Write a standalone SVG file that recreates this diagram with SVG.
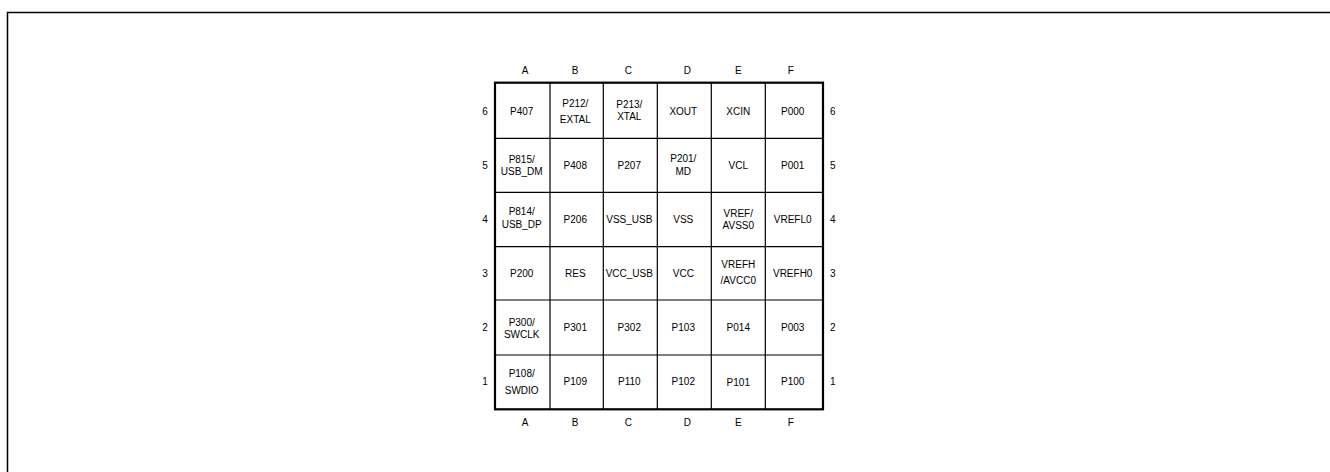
<svg xmlns="http://www.w3.org/2000/svg" width="1330" height="472" viewBox="0 0 1330 472">
<style>
text{font-family:"Liberation Sans",Arial,sans-serif;font-size:10px;fill:#000;text-anchor:middle}
.cell{fill:#fff;stroke:#000;stroke-width:1.2}
.frame{fill:none;stroke:#000;stroke-width:1.5}
.outer{fill:none;stroke:#000;stroke-width:2.2}
</style>
<rect width="1330" height="472" fill="#fff"/>
<path class="frame" d="M7.5,472 V12.5 H1330"/>
<g id="grid">
<path d="M550,82.7 V409.3 M603.3,82.7 V409.3 M657.3,82.7 V409.3 M711.3,82.7 V409.3 M765.3,82.7 V409.3 M495,138.3 H823 M495,192.3 H823 M495,246.7 H823 M495,300 H823 M495,355 H823" fill="none" stroke="#000" stroke-width="1.2"/>
<rect class="outer" x="495" y="82.7" width="328" height="326.6"/>
</g>
<g id="labels">
<text x="525" y="73.5">A</text><text x="575" y="73.5">B</text><text x="628.3" y="73.5">C</text><text x="687.3" y="73.5">D</text><text x="738.3" y="73.5">E</text><text x="790.7" y="73.5">F</text>
<text x="525" y="425.8">A</text><text x="575" y="425.8">B</text><text x="628.3" y="425.8">C</text><text x="687.3" y="425.8">D</text><text x="738.3" y="425.8">E</text><text x="790.7" y="425.8">F</text>
<text x="485" y="115.2">6</text><text x="485" y="168.5">5</text><text x="485" y="222.8">4</text><text x="485" y="276.8">3</text><text x="485" y="331">2</text><text x="485" y="384.5">1</text>
<text x="832.7" y="115.2">6</text><text x="832.7" y="168.5">5</text><text x="832.7" y="222.8">4</text><text x="832.7" y="276.8">3</text><text x="832.7" y="331">2</text><text x="832.7" y="384.5">1</text>
</g>
<g id="A6"><text x="521.7" y="115.2">P407</text></g>
<g id="B6"><text x="575.3" y="106.8">P212/</text><text x="575.3" y="122.5">EXTAL</text></g>
<g id="C6"><text x="629.3" y="107.8">P213/</text><text x="629.3" y="120.2">XTAL</text></g>
<g id="D6"><text x="683.3" y="115.2">XOUT</text></g>
<g id="E6"><text x="738.3" y="115.2">XCIN</text></g>
<g id="F6"><text x="792.7" y="115.2">P000</text></g>
<g id="A5"><text x="521.7" y="162.5">P815/</text><text x="521.7" y="175.2">USB_DM</text></g>
<g id="B5"><text x="575.3" y="168.5">P408</text></g>
<g id="C5"><text x="629.3" y="168.5">P207</text></g>
<g id="D5"><text x="683.3" y="161.8">P201/</text><text x="683.3" y="174.5">MD</text></g>
<g id="E5"><text x="738.3" y="168.5">VCL</text></g>
<g id="F5"><text x="792.7" y="168.5">P001</text></g>
<g id="A4"><text x="521.7" y="215.2">P814/</text><text x="521.7" y="227.8">USB_DP</text></g>
<g id="B4"><text x="575.3" y="222.8">P206</text></g>
<g id="C4"><text x="629.3" y="222.8">VSS_USB</text></g>
<g id="D4"><text x="683.3" y="222.8">VSS</text></g>
<g id="E4"><text x="738.3" y="216.8">VREF/</text><text x="738.3" y="229.2">AVSS0</text></g>
<g id="F4"><text x="792.7" y="222.8">VREFL0</text></g>
<g id="A3"><text x="521.7" y="276.8">P200</text></g>
<g id="B3"><text x="575.3" y="276.8">RES</text></g>
<g id="C3"><text x="629.3" y="276.8">VCC_USB</text></g>
<g id="D3"><text x="683.3" y="276.8">VCC</text></g>
<g id="E3"><text x="738.3" y="267.8">VREFH</text><text x="738.3" y="283.5">/AVCC0</text></g>
<g id="F3"><text x="792.7" y="276.8">VREFH0</text></g>
<g id="A2"><text x="521.7" y="325.8">P300/</text><text x="521.7" y="337.5">SWCLK</text></g>
<g id="B2"><text x="575.3" y="331.2">P301</text></g>
<g id="C2"><text x="629.3" y="331.2">P302</text></g>
<g id="D2"><text x="683.3" y="331.2">P103</text></g>
<g id="E2"><text x="738.3" y="331.2">P014</text></g>
<g id="F2"><text x="792.7" y="331.2">P003</text></g>
<g id="A1"><text x="521.7" y="376.8">P108/</text><text x="521.7" y="393.5">SWDIO</text></g>
<g id="B1"><text x="575.3" y="384.5">P109</text></g>
<g id="C1"><text x="629.3" y="384.5">P110</text></g>
<g id="D1"><text x="683.3" y="384.5">P102</text></g>
<g id="E1"><text x="738.3" y="385.8">P101</text></g>
<g id="F1"><text x="792.7" y="384.5">P100</text></g>
</svg>
